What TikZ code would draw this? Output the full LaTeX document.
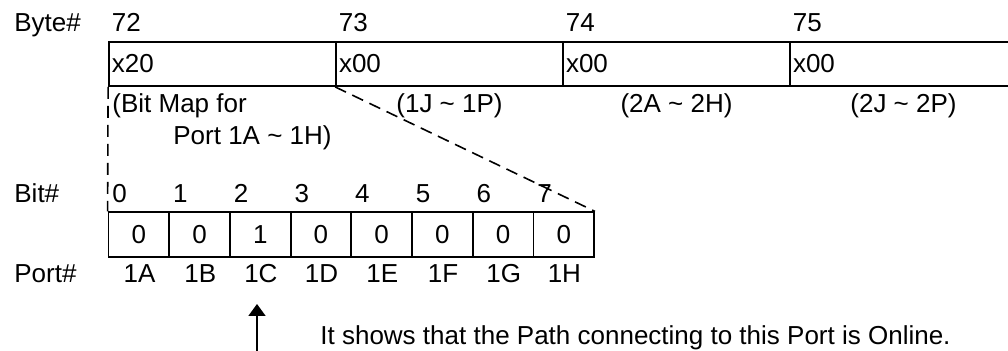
\documentclass[tikz,border=0pt]{standalone}
\usepackage{fontspec}
\setmainfont{Liberation Sans}
\usetikzlibrary{arrows.meta}

\tikzset{
  cell/.style={draw, line width=0.9pt, inner sep=1.5pt},
  bytecell/.style={cell, minimum height=22pt, text width=110.5pt, align=left},
  bitcell/.style={cell, minimum width=30.35pt, minimum height=22.5pt},
  lbl/.style={inner sep=0pt, anchor=base west},
  mid/.style={inner sep=0pt, anchor=base},
  zoomline/.style={line width=0.8pt, dash pattern=on 6pt off 3.5pt},
}

\begin{document}
\begin{tikzpicture}[x=0.5pt, y=-0.5pt, font=\fontsize{13}{15.6}\selectfont]
  \path[use as bounding box, clip] (0,0) rectangle (1008,351);

  % row titles
  \node[lbl] (bytetitle) at (14,32) {Byte\#};
  \node[lbl] (bittitle) at (14,203) {Bit\#};
  \node[lbl] (porttitle) at (14,283) {Port\#};

  % byte cells
  \foreach \n/\v [count=\i] in {72/x20, 73/x00, 74/x00, 75/x00} {
    \node[bytecell] (b\i) at ({222.5+227*(\i-1)},64) {\v};
    \node[lbl] (bn\i) at ({111.5+227*(\i-1)},32) {\n};
  }
  \node[lbl] (br1) at (112,113) {(Bit Map for};
  \node[lbl] (br1b) at (173,145) {Port 1A \textasciitilde{} 1H)};
  \foreach \r [count=\i from 2] in {{(1J \textasciitilde{} 1P)},{(2A \textasciitilde{} 2H)},{(2J \textasciitilde{} 2P)}} {
    \node[mid] (br\i) at ({222.5+227*(\i-1)},113) {\r};
  }

  % bit cells
  \foreach \v/\p [count=\i] in {0/1A,0/1B,1/1C,0/1D,0/1E,0/1F,0/1G,0/1H} {
    \node[bitcell] (bit\i) at ({138.85+60.7*(\i-1)},234.8) {\v};
    \node[lbl] (bitn\i) at ({112+60.7*(\i-1)},203) {\the\numexpr\i-1\relax};
    \node[mid] (port\i) at ({139.5+60.7*(\i-1)},283) {\p};
  }

  % zoom lines
  \draw[zoomline] (b1.south west) -- (bit1.north west);
  \draw[zoomline] (b2.south west) -- (bit8.north east);

  % pointer
  \coordinate (tail) at (257,351);
  \coordinate (tip) at (257,304);
  \draw[line width=0.9pt, -{Triangle[width=8.5pt, length=6pt]}] (tail) -- (tip);
  \node[lbl] (note) at (320,345) {It shows that the Path connecting to this Port is Online.};
\end{tikzpicture}
\end{document}
